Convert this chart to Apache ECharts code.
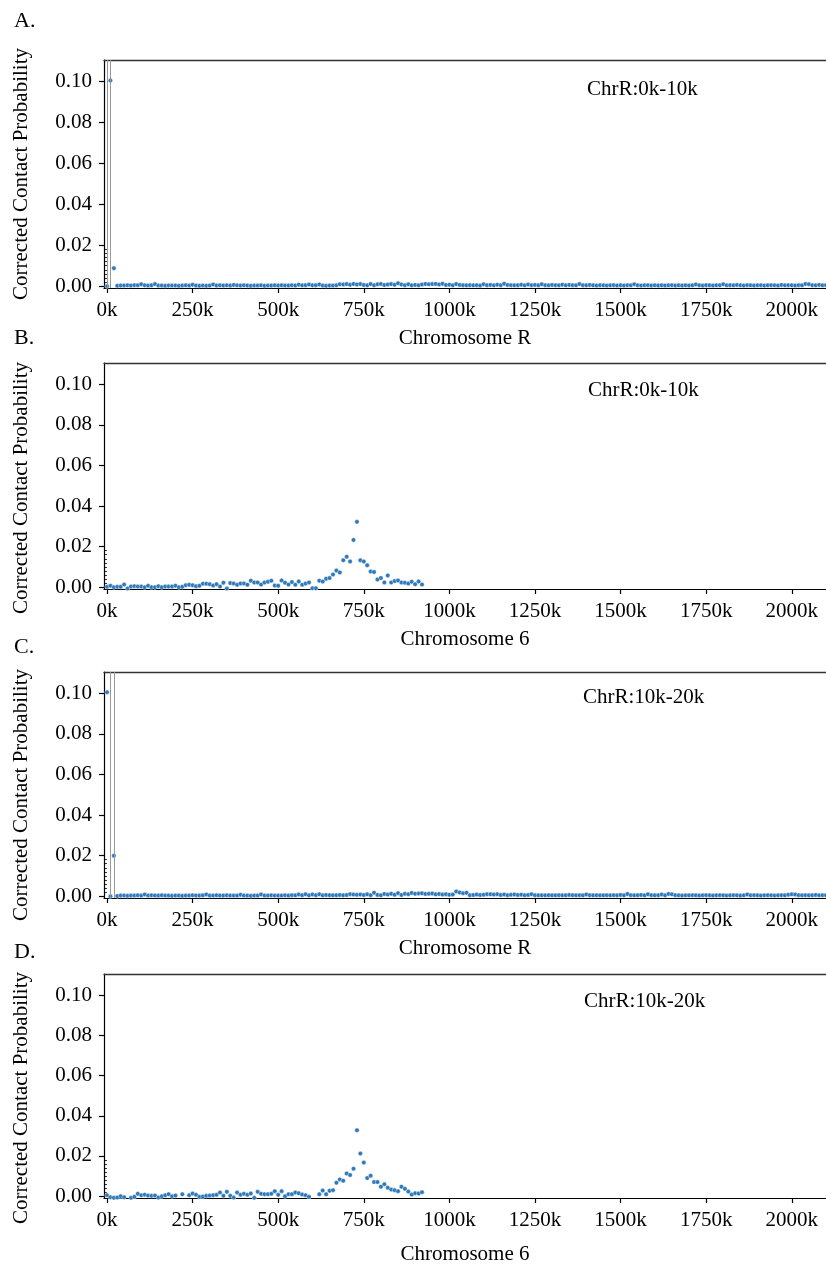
<!DOCTYPE html>
<html lang="en">
<head>
    <meta charset="UTF-8">
    <title>Corrected Contact Probability</title>
</head>
<style>
    body { margin: 0; background: #fff; }
    #main { width: 826px; height: 1266px; }
</style>
<body>
    <div id="main"></div>
    <script src="https://cdn.jsdelivr.net/npm/echarts@6/dist/echarts.min.js"></script>
    <script>
        // 10k bins, values start at 0k
        const binSize = 10000
        const xTicks = [0, 250000, 500000, 750000, 1000000, 1250000, 1500000, 1750000, 2000000]
        const yTicks = [0, 0.02, 0.04, 0.06, 0.08, 0.10]
        const yMinorTicks = [0.002, 0.004, 0.006, 0.008, 0.010, 0.012, 0.014, 0.016, 0.018]

        // A. ChrR:0k-10k vs Chromosome R
        const chrR_0_10 = [
            0.0000, 0.1005, 0.0088, 0.0002, 0.0003, 0.0003, 0.0004, 0.0003, 0.0005, 0.0004,
            0.0009, 0.0004, 0.0003, 0.0004, 0.0010, 0.0003, 0.0003, 0.0002, 0.0003, 0.0003,
            0.0003, 0.0002, 0.0003, 0.0004, 0.0003, 0.0007, 0.0003, 0.0002, 0.0003, 0.0002,
            0.0003, 0.0008, 0.0003, 0.0004, 0.0003, 0.0004, 0.0003, 0.0006, 0.0004, 0.0003,
            0.0004, 0.0003, 0.0002, 0.0003, 0.0003, 0.0004, 0.0002, 0.0003, 0.0003, 0.0004,
            0.0003, 0.0004, 0.0003, 0.0003, 0.0004, 0.0003, 0.0007, 0.0004, 0.0005, 0.0008,
            0.0004, 0.0005, 0.0008, 0.0003, 0.0002, 0.0003, 0.0003, 0.0004, 0.0009, 0.0008,
            0.0010, 0.0007, 0.0011, 0.0008, 0.0010, 0.0006, 0.0004, 0.0010, 0.0005, 0.0009,
            0.0011, 0.0006, 0.0008, 0.0010, 0.0007, 0.0014, 0.0008, 0.0005, 0.0009, 0.0004,
            0.0006, 0.0004, 0.0008, 0.0011, 0.0009, 0.0010, 0.0011, 0.0008, 0.0012, 0.0006,
            0.0007, 0.0004, 0.0010, 0.0006, 0.0005, 0.0004, 0.0005, 0.0004, 0.0005, 0.0003,
            0.0009, 0.0005, 0.0006, 0.0004, 0.0007, 0.0005, 0.0012, 0.0006, 0.0005, 0.0004,
            0.0005, 0.0007, 0.0004, 0.0008, 0.0005, 0.0006, 0.0004, 0.0009, 0.0005, 0.0004,
            0.0006, 0.0005, 0.0004, 0.0007, 0.0004, 0.0006, 0.0005, 0.0004, 0.0010, 0.0005,
            0.0004, 0.0006, 0.0004, 0.0003, 0.0005, 0.0004, 0.0003, 0.0004, 0.0005, 0.0003,
            0.0004, 0.0003, 0.0005, 0.0004, 0.0009, 0.0004, 0.0003, 0.0004, 0.0005, 0.0003,
            0.0004, 0.0003, 0.0004, 0.0003, 0.0004, 0.0005, 0.0003, 0.0004, 0.0003, 0.0004,
            0.0003, 0.0004, 0.0008, 0.0004, 0.0003, 0.0005, 0.0004, 0.0003, 0.0004, 0.0005,
            0.0009, 0.0004, 0.0005, 0.0004, 0.0006, 0.0004, 0.0003, 0.0005, 0.0004, 0.0003,
            0.0004, 0.0005, 0.0003, 0.0004, 0.0005, 0.0004, 0.0003, 0.0006, 0.0004, 0.0005,
            0.0004, 0.0003, 0.0005, 0.0004, 0.0011, 0.0009, 0.0005, 0.0004, 0.0006, 0.0004,
            0.0005, 0.0004
        ]

        // B. ChrR:0k-10k vs Chromosome 6
        const chr6_0_10 = [
            0.0002, 0.0007, 0.0000, 0.0002, 0.0002, 0.0013, -0.0006, 0.0003, 0.0005, 0.0003,
            0.0003, 0.0000, 0.0007, 0.0000, 0.0000, 0.0005, 0.0000, 0.0003, 0.0003, 0.0003,
            0.0007, 0.0000, 0.0002, 0.0010, 0.0012, 0.0010, 0.0005, 0.0007, 0.0017, 0.0017,
            0.0015, 0.0008, 0.0015, 0.0003, 0.0022, -0.0007, 0.0020, 0.0018, 0.0012, 0.0018,
            0.0018, 0.0012, 0.0032, 0.0023, 0.0023, 0.0013, 0.0023, 0.0027, 0.0032, 0.0008,
            0.0007, 0.0033, 0.0022, 0.0013, 0.0025, 0.0012, 0.0028, 0.0012, 0.0018, 0.0023,
            -0.0005, -0.0005, 0.0032, 0.0028, 0.0042, 0.0045, 0.0062, 0.0082, 0.0072, 0.0133,
            0.0150, 0.0127, 0.0233, 0.0322, 0.0133, 0.0127, 0.0108, 0.0077, 0.0075, 0.0038,
            0.0045, 0.0023, 0.0058, 0.0023, 0.0030, 0.0033, 0.0023, 0.0022, 0.0018, 0.0027,
            0.0015, 0.0028, 0.0013
        ]

        // C. ChrR:10k-20k vs Chromosome R
        const chrR_10_20 = [
            0.1005, 0.0000, 0.0199, 0.0001, 0.0003, 0.0003, 0.0002, 0.0003, 0.0003, 0.0004,
            0.0003, 0.0008, 0.0003, 0.0004, 0.0003, 0.0003, 0.0004, 0.0003, 0.0003, 0.0002,
            0.0003, 0.0003, 0.0002, 0.0003, 0.0003, 0.0004, 0.0003, 0.0003, 0.0004, 0.0008,
            0.0003, 0.0003, 0.0004, 0.0003, 0.0003, 0.0004, 0.0003, 0.0003, 0.0003, 0.0007,
            0.0003, 0.0003, 0.0002, 0.0003, 0.0003, 0.0008, 0.0003, 0.0003, 0.0004, 0.0003,
            0.0003, 0.0003, 0.0004, 0.0003, 0.0005, 0.0004, 0.0008, 0.0005, 0.0009, 0.0004,
            0.0008, 0.0005, 0.0009, 0.0004, 0.0006, 0.0005, 0.0004, 0.0005, 0.0006, 0.0005,
            0.0006, 0.0010, 0.0008, 0.0007, 0.0008, 0.0006, 0.0009, 0.0005, 0.0017, 0.0006,
            0.0004, 0.0011, 0.0008, 0.0012, 0.0007, 0.0015, 0.0006, 0.0012, 0.0010, 0.0016,
            0.0012, 0.0013, 0.0014, 0.0011, 0.0012, 0.0013, 0.0009, 0.0011, 0.0008, 0.0010,
            0.0007, 0.0008, 0.0023, 0.0018, 0.0015, 0.0017, 0.0005, 0.0006, 0.0008, 0.0006,
            0.0007, 0.0010, 0.0009, 0.0008, 0.0010, 0.0006, 0.0008, 0.0005, 0.0007, 0.0008,
            0.0006, 0.0007, 0.0005, 0.0006, 0.0010, 0.0005, 0.0004, 0.0004, 0.0004, 0.0005,
            0.0004, 0.0004, 0.0005, 0.0004, 0.0005, 0.0006, 0.0005, 0.0004, 0.0005, 0.0004,
            0.0008, 0.0005, 0.0004, 0.0005, 0.0004, 0.0004, 0.0005, 0.0004, 0.0005, 0.0004,
            0.0006, 0.0004, 0.0011, 0.0005, 0.0004, 0.0005, 0.0006, 0.0004, 0.0009, 0.0005,
            0.0004, 0.0005, 0.0008, 0.0004, 0.0011, 0.0009, 0.0005, 0.0004, 0.0003, 0.0004,
            0.0004, 0.0005, 0.0004, 0.0003, 0.0004, 0.0005, 0.0004, 0.0003, 0.0004, 0.0005,
            0.0004, 0.0003, 0.0004, 0.0005, 0.0004, 0.0003, 0.0004, 0.0008, 0.0004, 0.0005,
            0.0004, 0.0003, 0.0004, 0.0005, 0.0004, 0.0003, 0.0004, 0.0005, 0.0004, 0.0007,
            0.0009, 0.0008, 0.0005, 0.0004, 0.0005, 0.0004, 0.0005, 0.0006, 0.0004, 0.0005,
            0.0004, 0.0005
        ]

        // D. ChrR:10k-20k vs Chromosome 6
        const chr6_10_20 = [
            0.0005, -0.0005, -0.0008, -0.0007, 0.0000, -0.0005, -0.0010, -0.0008, -0.0003, 0.0012,
            0.0005, 0.0007, 0.0003, 0.0002, 0.0003, -0.0007, 0.0000, 0.0005, 0.0010, 0.0000,
            0.0003, -0.0010, 0.0010, -0.0010, 0.0005, 0.0013, 0.0007, -0.0003, -0.0002, 0.0002,
            0.0003, 0.0005, 0.0007, 0.0018, 0.0002, 0.0022, 0.0002, -0.0007, 0.0018, 0.0007,
            0.0012, 0.0007, 0.0013, -0.0008, 0.0022, 0.0012, 0.0010, 0.0010, 0.0012, 0.0025,
            0.0007, 0.0025, 0.0000, 0.0010, 0.0010, 0.0018, 0.0015, 0.0008, 0.0005, -0.0003,
            -0.0010, -0.0010, 0.0010, 0.0028, 0.0010, 0.0027, 0.0030, 0.0067, 0.0083, 0.0077,
            0.0113, 0.0105, 0.0137, 0.0328, 0.0212, 0.0167, 0.0090, 0.0102, 0.0070, 0.0070,
            0.0047, 0.0060, 0.0042, 0.0033, 0.0030, 0.0025, 0.0047, 0.0037, 0.0023, 0.0008,
            0.0015, 0.0013, 0.0020
        ]

        const panels = [
            { tag: 'A.', region: 'ChrR:0k-10k', xName: 'Chromosome R', values: chrR_0_10, marks: [0, 10000] },
            { tag: 'B.', region: 'ChrR:0k-10k', xName: 'Chromosome 6', values: chr6_0_10, marks: [] },
            { tag: 'C.', region: 'ChrR:10k-20k', xName: 'Chromosome R', values: chrR_10_20, marks: [10000, 20000] },
            { tag: 'D.', region: 'ChrR:10k-20k', xName: 'Chromosome 6', values: chr6_10_20, marks: [] }
        ]

        // layout per panel
        const gridTops = [60, 363, 672, 974]
        const gridHeights = [228, 226, 226, 225]
        const tagY = [22, 339, 648, 953]
        const regionPos = [[587, 91], [588, 392], [583, 699], [584, 1003]]
        const xNameGaps = [40, 40, 40, 46]
        const yNameShift = [0, 12, 10, 12]   // push y title downwards

        const font = 'Liberation Serif, Times New Roman, serif'
        const fs = 21

        let main = document.getElementById('main')
        let chart = echarts.init(main)

        const grid = [], xAxis = [], yAxis = [], series = [], graphic = []
        panels.forEach((p, i) => {
            grid.push({ left: 104, right: 0, top: gridTops[i], height: gridHeights[i] })
            // bottom axis
            xAxis.push({
                type: 'value', gridIndex: i, min: -8800, max: 2100000,
                name: p.xName, nameLocation: 'middle', nameGap: xNameGaps[i],
                nameTextStyle: { fontFamily: font, fontSize: fs, color: '#000' },
                axisLine: { onZero: false, lineStyle: { color: '#000', width: 1.2 } },
                axisTick: { customValues: xTicks, length: 5, lineStyle: { color: '#000', width: 1.2 } },
                axisLabel: {
                    customValues: xTicks, margin: 12,
                    fontFamily: font, fontSize: fs, color: '#000',
                    formatter: v => (v / 1000) + 'k'
                },
                splitLine: { show: false }
            })
            // top frame line
            xAxis.push({
                type: 'value', gridIndex: i, position: 'top', min: -8800, max: 2100000,
                axisLine: { onZero: false, lineStyle: { color: '#333', width: 1.4 } },
                axisTick: { show: false }, axisLabel: { show: false }, splitLine: { show: false }
            })
            yAxis.push({
                type: 'value', gridIndex: i, min: -0.0009, max: 0.1105,
                name: 'Corrected Contact Probability', nameLocation: 'middle', nameGap: 72,
                nameTextStyle: {
                    fontFamily: font, fontSize: fs, color: '#000',
                    padding: [0, yNameShift[i] * 2, 0, 0]
                },
                axisLine: { show: true, onZero: false, lineStyle: { color: '#000', width: 1.2 } },
                axisTick: { customValues: yTicks, length: 5, lineStyle: { color: '#000', width: 1.2 } },
                axisLabel: {
                    customValues: yTicks, margin: 12,
                    fontFamily: font, fontSize: fs, color: '#000',
                    formatter: v => v.toFixed(2)
                },
                splitLine: { show: false }
            })
            // minor ticks near zero
            yAxis.push({
                type: 'value', gridIndex: i, min: -0.0009, max: 0.1105, position: 'left',
                axisLine: { show: false },
                axisTick: { customValues: yMinorTicks, length: 3, lineStyle: { color: '#000', width: 0.8 } },
                axisLabel: { show: false }, splitLine: { show: false }
            })
            series.push({
                type: 'scatter', xAxisIndex: i * 2, yAxisIndex: i * 2,
                symbolSize: 4.5,
                itemStyle: { color: '#3079b9', borderColor: '#fff', borderWidth: 0.4, opacity: 1 },
                data: p.values.map((v, k) => [k * binSize, v]),
                markLine: p.marks.length ? {
                    symbol: 'none', silent: true, animation: false,
                    label: { show: false },
                    lineStyle: { color: '#999', width: 1, type: 'solid' },
                    data: p.marks.map(m => ({ xAxis: m }))
                } : undefined,
                z: 3
            })
            graphic.push({
                type: 'text', left: 14, top: tagY[i] - 12,
                style: { text: p.tag, fontFamily: font, fontSize: 22, fill: '#000' }
            })
            graphic.push({
                type: 'text', left: regionPos[i][0], top: regionPos[i][1] - 12,
                style: { text: p.region, fontFamily: font, fontSize: fs, fill: '#000' }
            })
        })

        chart.setOption({
            animation: false,
            grid, xAxis, yAxis, series, graphic
        })
    </script>
</body>
</html>
